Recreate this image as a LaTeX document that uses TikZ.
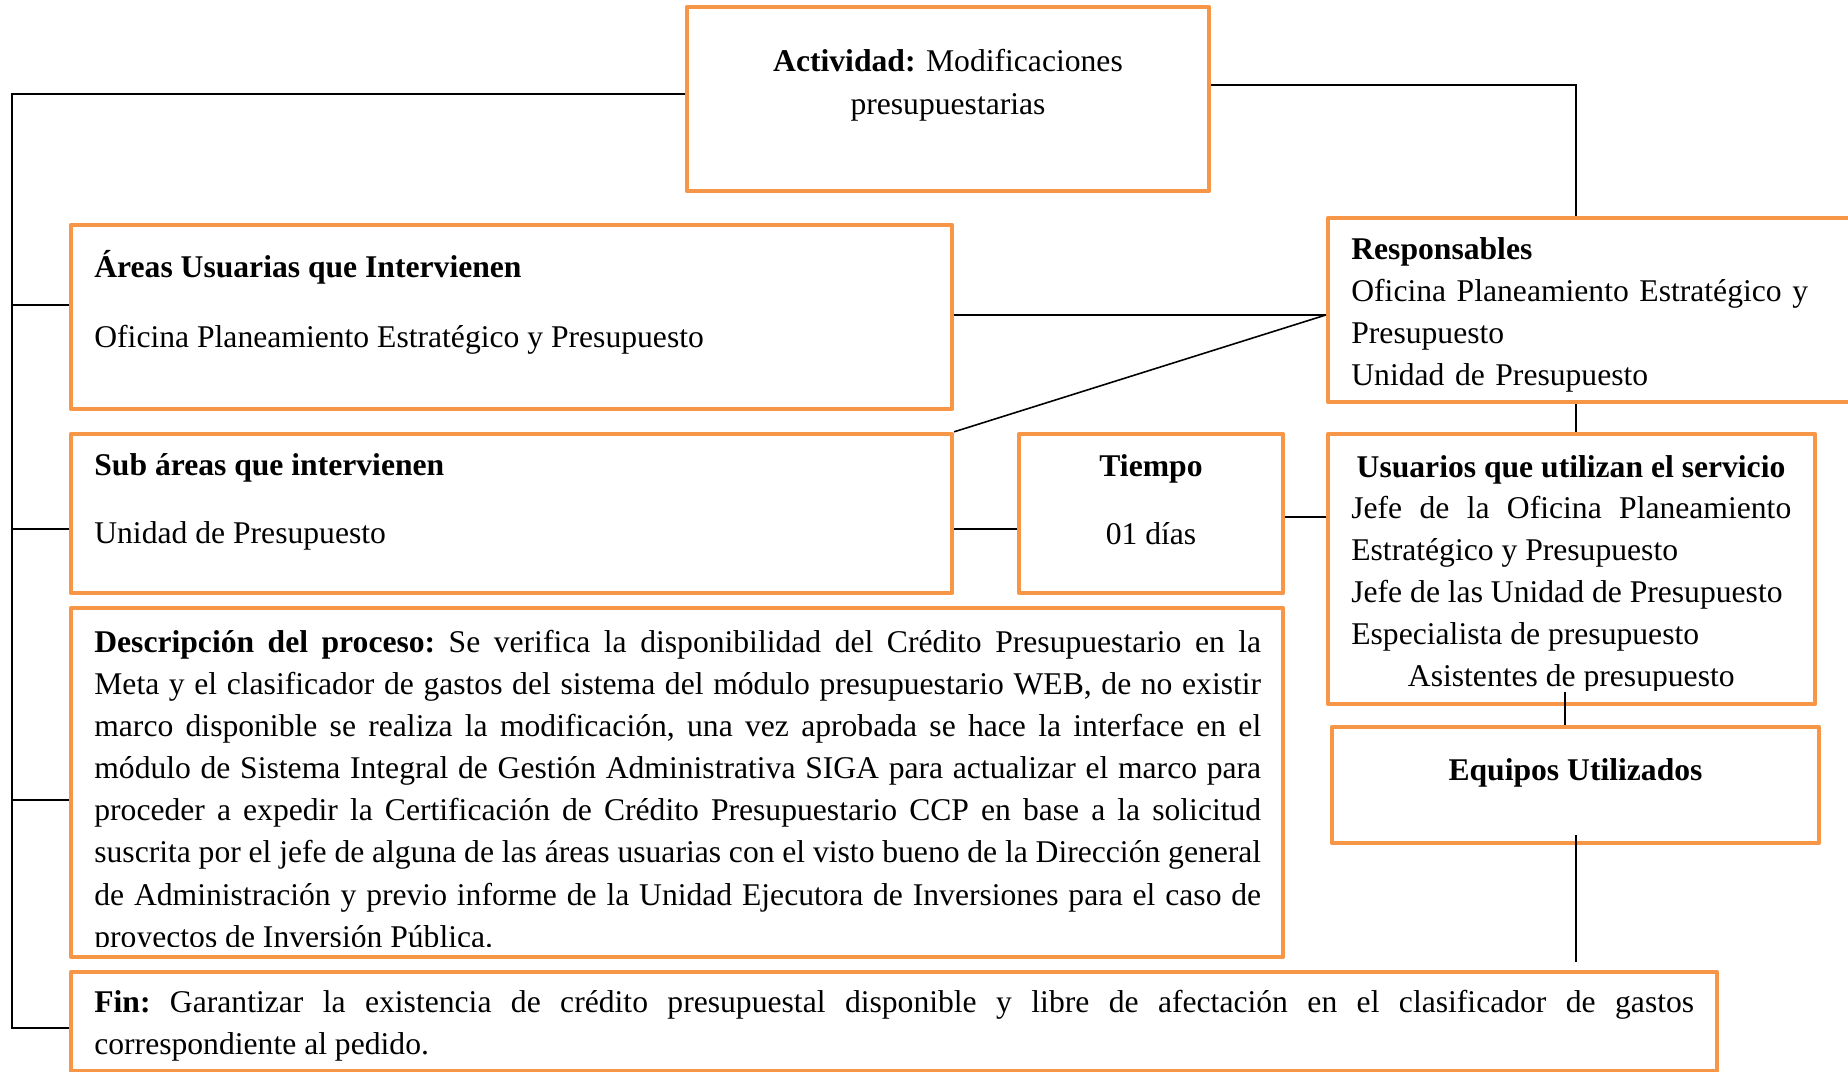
\documentclass[tikz,border=0pt]{standalone}
\usepackage{fontspec}
\setmainfont{Liberation Serif}
\usetikzlibrary{calc}
\definecolor{naranja}{HTML}{F79646}
\frenchspacing

\begin{document}
\begin{tikzpicture}[x=0.02cm, y=-0.02cm, font=\fontsize{18}{24}\selectfont,
  caja/.style={draw=naranja, line width=2.5pt, line join=round, inner sep=0pt},
  texto/.style={inner sep=0pt, anchor=base west},
  enlace/.style={line width=0.9pt}]
  \useasboundingbox (0,0) rectangle (1848,1071);
  % cajas
  \node[caja, minimum width=10.44cm, minimum height=3.68cm] (act) at (948,99) {};
  \node[caja, minimum width=17.62cm, minimum height=3.68cm] (areas) at (511.5,317) {};
  \node[caja, minimum width=10.54cm, minimum height=3.68cm] (resp) at (1591.5,310) {};
  \node[caja, minimum width=17.62cm, minimum height=3.18cm] (sub) at (511.5,513.5) {};
  \node[caja, minimum width=5.28cm, minimum height=3.18cm] (tiempo) at (1151,513.5) {};
  \node[caja, minimum width=9.74cm, minimum height=5.4cm] (usr) at (1571.5,569) {};
  \node[caja, minimum width=24.24cm, minimum height=6.98cm] (desc) at (677,782.5) {};
  \node[caja, minimum width=9.74cm, minimum height=2.32cm] (equ) at (1575.5,785) {};
  \node[caja, minimum width=32.92cm, minimum height=1.98cm] (fin) at (894,1021.5) {};
  % textos
  \node[texto, text width=10cm, align=center, anchor=base] (act-t) at (948,72)
    {\textbf{Actividad:} Modificaciones\\presupuestarias};
  \node[texto] (areas-t) at (94,277) {\textbf{Áreas Usuarias que Intervienen}};
  \node[texto] (areas-b) at (94,347) {Oficina Planeamiento Estratégico y Presupuesto};
  \node[texto, text width=9.6cm, align=left] (resp-t) at (1351,259)
    {\textbf{Responsables}\\Oficina Planeamiento Estratégico y\\Presupuesto\\Unidad de Presupuesto};
  \node[texto] (sub-t) at (94,475) {\textbf{Sub áreas que intervienen}};
  \node[texto] (sub-b) at (94,543) {Unidad de Presupuesto};
  \node[texto, anchor=base] (tiempo-t) at (1151,476) {\textbf{Tiempo}};
  \node[texto, anchor=base] (tiempo-b) at (1151,544) {01 días};
  \node[texto, anchor=base] (usr-t) at (1571,477) {\textbf{Usuarios que utilizan el servicio}};
  \begin{scope}
    \clip (1328,434) rectangle (1815,690);
    \node[texto, text width=8.8cm, align=justify] (usr-b) at (1351,518)
      {Jefe de la Oficina Planeamiento\linebreak Estratégico y Presupuesto\\
       Jefe de las Unidad de Presupuesto\\Especialista de presupuesto\par
       {\centering Asistentes de presupuesto\par}};
  \end{scope}
  \node[texto, anchor=base] (equ-t) at (1575.5,780) {\textbf{Equipos Utilizados}};
  \begin{scope}
    \clip (71,608) rectangle (1283,946);
    \node[texto, text width=23.34cm, align=justify] (desc-t) at (94,652)
      {\textbf{Descripción del proceso:} Se verifica la disponibilidad del Crédito Presupuestario en la\linebreak
       Meta y el clasificador de gastos del sistema del módulo presupuestario WEB, de no existir\linebreak
       marco disponible se realiza la modificación, una vez aprobada se hace la interface en el\linebreak
       módulo de Sistema Integral de Gestión Administrativa SIGA para actualizar el marco para\linebreak
       proceder a expedir la Certificación de Crédito Presupuestario CCP en base a la solicitud\linebreak
       suscrita por el jefe de alguna de las áreas usuarias con el visto bueno de la Dirección general\linebreak
       de Administración y previo informe de la Unidad Ejecutora de Inversiones para el caso de\linebreak
       proyectos de Inversión Pública.};
  \end{scope}
  \node[texto, text width=32cm, align=justify] (fin-t) at (94,1012)
    {\textbf{Fin:} Garantizar la existencia de crédito presupuestal disponible y libre de afectación en el clasificador de gastos\linebreak
     correspondiente al pedido.};
  % conectores
  \coordinate (tronco) at (12,94);
  \draw[enlace] (act.west |- 0,94) -- (tronco) |- (fin.west |- 0,1028);
  \draw[enlace] (tronco |- 0,305) -- (areas.west |- 0,305);
  \draw[enlace] (tronco |- 0,529) -- (sub.west |- 0,529);
  \draw[enlace] (tronco |- 0,800) -- (desc.west |- 0,800);
  \draw[enlace] (act.east |- 0,85) -| (resp.north -| 1576,0);
  \draw[enlace] (areas.east |- 0,315) -- (resp.west |- 0,315);
  \draw[enlace] (sub.north east) -- (resp.west |- 0,315);
  \draw[enlace] (resp.south -| 1576,0) -- (usr.north -| 1576,0);
  \draw[enlace] (sub.east |- 0,529) -- (tiempo.west |- 0,529);
  \draw[enlace] (tiempo.east |- 0,517) -- (usr.west |- 0,517);
  \draw[enlace] ($(usr.south -| 1565,0)+(0,-14)$) -- (equ.north -| 1565,0);
  \draw[enlace] ($(equ.south -| 1576,0)+(0,-10)$) -- ($(fin.north -| 1576,0)+(0,-8)$);
\end{tikzpicture}
\end{document}
